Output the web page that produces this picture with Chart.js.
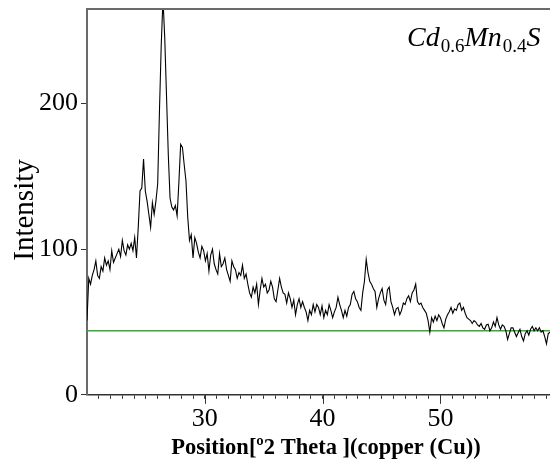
<!DOCTYPE html>
<html>
<head>
<meta charset="utf-8">
<script src="https://cdn.jsdelivr.net/npm/chart.js@4/dist/chart.umd.min.js"></script>
<style>
  html, body { margin: 0; padding: 0; background: #fff; }
  #wrap { width: 550px; height: 468px; position: relative; }
</style>
</head>
<body>
<div id="wrap"><canvas id="xrd" width="550" height="468"></canvas></div>
<script>
// Scan grid (degrees 2-theta) and measured counts
const scanStart = 20.0;
const scanStep = 0.15;
const intensity = [
  51, 80, 76, 82, 86, 92, 82, 80, 88, 85, 94, 89, 92, 86, 99, 91, 94, 97, 100, 95,
  106, 99, 96, 103, 100, 104, 99, 108, 94, 115, 140, 142, 162, 140, 133, 124, 115, 132, 124, 133,
  145, 195, 240, 272, 245, 205, 165, 135, 129, 127, 130, 123, 146, 172, 170, 158, 147, 122, 106, 110,
  94, 108, 104, 98, 94, 102, 99, 92, 97, 85, 96, 100, 90, 86, 83, 97, 88, 90, 94, 86,
  82, 78, 92, 88, 86, 80, 84, 82, 89, 80, 83, 76, 70, 67, 74, 70, 76, 62, 72, 80,
  74, 76, 70, 72, 78, 74, 66, 64, 72, 80, 74, 70, 69, 63, 70, 66, 60, 65, 55, 62,
  66, 60, 64, 60, 57, 51, 58, 55, 62, 57, 62, 60, 55, 61, 53, 58, 55, 62, 58, 53,
  57, 60, 67, 62, 58, 53, 58, 54, 60, 62, 69, 71, 66, 64, 60, 58, 70, 78, 93, 84,
  78, 76, 73, 71, 60, 66, 70, 73, 65, 62, 72, 74, 64, 60, 55, 59, 60, 55, 58, 63,
  62, 66, 68, 64, 70, 72, 76, 64, 62, 63, 60, 58, 56, 51, 43, 53, 50, 54, 51, 55,
  53, 49, 46, 52, 55, 57, 60, 56, 59, 58, 62, 63, 58, 60, 56, 53, 52, 51, 49, 51,
  50, 48, 47, 49, 46, 45, 48, 48.5, 44, 46, 50, 47, 53, 48, 45, 48, 47, 44, 38, 42,
  46, 46, 43, 40, 42.6, 45, 40, 37, 42, 44, 41, 45, 47, 44, 46, 44, 46, 43, 44, 40,
  35, 42, 43
];
const background = 44;
const xRange = [20, 59.3];
const yRange = [0, 265];
const xLabels = [30, 40, 50];
const yLabels = [0, 100, 200];
const xTitle = 'Position[º2 Theta ](copper (Cu))';
const yTitle = 'Intensity';

const pattern = intensity.map((v, i) => ({ x: +(scanStart + i * scanStep).toFixed(2), y: v }));
const baseline = [{ x: xRange[0], y: background }, { x: xRange[1], y: background }];

const serif = '"Liberation Serif", "Times New Roman", serif';

// Frame, longer major ticks, axis titles and the compound formula
const decorations = {
  id: 'decorations',
  afterDraw(chart) {
    const { ctx, chartArea: a, scales: { x } } = chart;
    ctx.save();
    ctx.strokeStyle = '#6a6a6a';
    ctx.lineWidth = 2;
    ctx.beginPath();
    ctx.moveTo(a.left, a.top);
    ctx.lineTo(550, a.top);
    ctx.stroke();

    ctx.strokeStyle = '#333';
    ctx.lineWidth = 1;
    xLabels.forEach(v => {
      const px = Math.round(x.getPixelForValue(v)) + 0.5;
      ctx.beginPath();
      ctx.moveTo(px, a.bottom);
      ctx.lineTo(px, a.bottom + 9);
      ctx.stroke();
    });

    ctx.fillStyle = '#000';
    ctx.textAlign = 'center';
    ctx.textBaseline = 'middle';
    ctx.font = 'bold 22.5px ' + serif;
    ctx.fillText(xTitle, 326, 448);

    ctx.save();
    ctx.translate(25, 210);
    ctx.rotate(-Math.PI / 2);
    ctx.font = '29px ' + serif;
    ctx.fillText(yTitle, 0, 0);
    ctx.restore();

    // Cd0.6Mn0.4S
    const parts = [
      ['Cd', false], ['0.6', true], ['Mn', false], ['0.4', true], ['S', false]
    ];
    let px = 407;
    const base = 46;
    ctx.textAlign = 'left';
    ctx.textBaseline = 'alphabetic';
    parts.forEach(([t, sub]) => {
      ctx.font = sub ? '19px ' + serif : 'italic 28px ' + serif;
      ctx.fillText(t, px, sub ? base + 6 : base);
      px += ctx.measureText(t).width + (sub ? 0 : 1);
    });
    ctx.restore();
  }
};

new Chart(document.getElementById('xrd'), {
  type: 'scatter',
  data: {
    datasets: [
      {
        data: baseline,
        showLine: true,
        borderColor: '#38a838',
        borderWidth: 1.5,
        pointRadius: 0,
        order: 2
      },
      {
        data: pattern,
        showLine: true,
        borderColor: '#000',
        borderWidth: 1.1,
        pointRadius: 0,
        tension: 0,
        order: 1
      }
    ]
  },
  options: {
    responsive: false,
    animation: false,
    clip: true,
    layout: { padding: { left: 0, right: 0, top: 0, bottom: 28 } },
    plugins: { legend: { display: false }, tooltip: { enabled: false } },
    scales: {
      x: {
        type: 'linear',
        min: xRange[0],
        max: xRange[1],
        border: { display: true, color: '#333', width: 1.5 },
        grid: { drawOnChartArea: false, drawTicks: true, tickLength: 4, color: '#333' },
        ticks: {
          stepSize: 1,
          autoSkip: false,
          maxRotation: 0,
          padding: 5,
          color: '#000',
          font: { family: serif, size: 26 },
          callback: v => (xLabels.includes(v) ? String(v) : '')
        },
        afterBuildTicks: s => { s.ticks = []; for (let v = 21; v <= 59; v++) s.ticks.push({ value: v }); },
        afterFit: s => { s.paddingRight = 0; s.paddingLeft = 0; }
      },
      y: {
        type: 'linear',
        min: yRange[0],
        max: yRange[1],
        border: { display: true, color: '#6a6a6a', width: 2 },
        grid: { drawOnChartArea: false, drawTicks: true, tickLength: 6, color: '#333' },
        afterBuildTicks: s => { s.ticks = yLabels.map(v => ({ value: v })); },
        ticks: {
          padding: 3,
          color: '#000',
          font: { family: serif, size: 26 },
          callback: v => String(v)
        },
        afterFit: s => { s.width = 87; s.paddingTop = 9; s.paddingBottom = 0; }
      }
    }
  },
  plugins: [decorations]
});
</script>
</body>
</html>
